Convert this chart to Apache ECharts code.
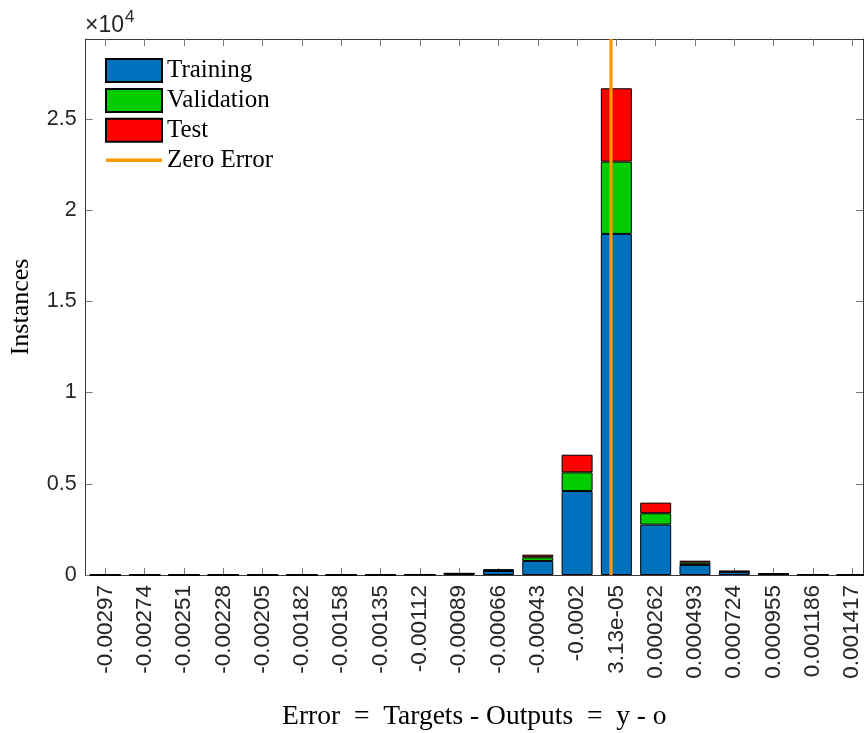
<!DOCTYPE html>
<html>
<head>
<meta charset="utf-8">
<script src="https://cdn.jsdelivr.net/npm/echarts@6/dist/echarts.min.js"></script>
<style>html,body{margin:0;padding:0;background:#fff}#c{width:864px;height:733px}</style>
</head>
<body>
<div id="c"></div>
<script>
// Bin centers (error values) and their tick labels
const binCenters = [-0.00297, -0.0027391, -0.0025082, -0.0022773, -0.0020464, -0.0018155, -0.0015846, -0.0013537, -0.0011228, -0.0008919, -0.000661, -0.0004301, -0.0001992, 0.0000313, 0.0002622, 0.0004931, 0.000724, 0.0009549, 0.0011858, 0.0014167];
const binLabels = ['-0.00297', '-0.00274', '-0.00251', '-0.00228', '-0.00205', '-0.00182', '-0.00158', '-0.00135', '-0.00112', '-0.00089', '-0.00066', '-0.00043', '-0.0002', '3.13e-05', '0.000262', '0.000493', '0.000724', '0.000955', '0.001186', '0.001417'];
const training   = [1, 1, 1, 1, 1, 2, 2, 10, 20, 70, 220, 770, 4600, 18690, 2760, 550, 170, 60, 20, 6];
const validation = [0, 0, 0, 0, 0, 1, 1, 3, 5, 12, 45, 200, 1025, 3960, 625, 125, 28, 12, 4, 2];
const test       = [0, 0, 0, 0, 0, 1, 1, 3, 5, 12, 40, 145, 965, 4020, 580, 110, 25, 12, 4, 2];
const zeroError = 0;
const yTicks = [0, 5000, 10000, 15000, 20000, 25000];

const X_MIN = -0.0030855, X_MAX = 0.00148, Y_MAX = 29370;
const labelFont = 'Liberation Sans, Arial, sans-serif';
const serifFont = 'Liberation Serif, Times New Roman, serif';
const axisColor = '#3a3a3a';

// value first so that the stacked dimension is the count (y)
function pts(arr){ return arr.map((v,i)=>[v, binCenters[i]]); }
const barBase = {type:'bar', stack:'all', barWidth:31, xAxisIndex:0, yAxisIndex:0,
  encode:{x:1, y:0}, emphasis:{disabled:true}};

const chart = echarts.init(document.getElementById('c'), null, {renderer:'canvas'});
chart.setOption({
  animation:false,
  backgroundColor:'#fff',
  grid:{left:85.7, right:1, top:39, bottom:158, containLabel:false, outerBoundsMode:'none'},
  legend:{
    orient:'vertical', left:105, top:58, padding:0,
    itemWidth:56, itemHeight:23, itemGap:4.9,
    textStyle:{fontFamily:serifFont, fontSize:25, color:'#000', padding:[0,0,0,0]},
    data:[
      {name:'Training', icon:'rect'},
      {name:'Validation', icon:'rect'},
      {name:'Test', icon:'rect'},
      {name:'Zero Error', icon:'path://M0,0 L56,0 L56,3.4 L0,3.4 Z'}
    ]
  },
  xAxis:[{
    type:'value', min:X_MIN, max:X_MAX, position:'bottom',
    axisLine:{show:true, onZero:false, lineStyle:{color:axisColor, width:1}},
    axisTick:{show:true, inside:true, length:7, customValues:binCenters, lineStyle:{color:'#777'}},
    axisLabel:{show:true, rotate:90, margin:10, customValues:binCenters,
      fontFamily:labelFont, fontSize:22.5, color:'#262626',
      formatter:function(v){ let best=0; for(let i=0;i<binCenters.length;i++){ if(Math.abs(binCenters[i]-v)<Math.abs(binCenters[best]-v)) best=i; } return binLabels[best]; }},
    splitLine:{show:false},
    name:'Error  =  Targets - Outputs  =  y - o', nameLocation:'middle', nameGap:128,
    nameTextStyle:{fontFamily:serifFont, fontSize:27.5, color:'#000'}
  },{
    type:'value', min:X_MIN, max:X_MAX, position:'top',
    axisLine:{show:true, onZero:false, lineStyle:{color:axisColor, width:1}},
    axisTick:{show:true, inside:true, length:7, customValues:binCenters, lineStyle:{color:'#777'}},
    axisLabel:{show:false}, splitLine:{show:false}
  }],
  yAxis:[{
    type:'value', min:0, max:Y_MAX, interval:5000, position:'left',
    axisLine:{show:true, onZero:false, lineStyle:{color:axisColor, width:1}},
    axisTick:{show:true, inside:true, length:7, customValues:yTicks, lineStyle:{color:'#777'}},
    axisLabel:{show:true, margin:9, customValues:yTicks, fontFamily:labelFont, fontSize:21.5, color:'#262626',
      formatter:function(v){ return String(Math.round(v/1000)/10); }},
    splitLine:{show:false},
    name:'Instances', nameLocation:'middle', nameGap:52, nameRotate:90,
    nameTextStyle:{fontFamily:serifFont, fontSize:26, color:'#000'}
  },{
    type:'value', min:0, max:Y_MAX, interval:5000, position:'right',
    axisLine:{show:true, onZero:false, lineStyle:{color:axisColor, width:1}},
    axisTick:{show:true, inside:true, length:7, customValues:yTicks, lineStyle:{color:'#777'}},
    axisLabel:{show:false}, splitLine:{show:false}
  }],
  series:[
    Object.assign({}, barBase, {name:'Training', data:pts(training), itemStyle:{color:'#0072BD', borderColor:'#000', borderWidth:1}}),
    Object.assign({}, barBase, {name:'Validation', data:pts(validation), itemStyle:{color:'#00CC00', borderColor:'#000', borderWidth:1}}),
    Object.assign({}, barBase, {name:'Test', data:pts(test), itemStyle:{color:'#FF0000', borderColor:'#000', borderWidth:1}}),
    {name:'Zero Error', type:'line', xAxisIndex:0, yAxisIndex:0, symbol:'none', z:5,
     data:[[zeroError,0],[zeroError,Y_MAX]],
     itemStyle:{color:'#FF9900'}, lineStyle:{color:'#FF9900', width:3.3}, emphasis:{disabled:true}}
  ],
  graphic:[
    {type:'text', left:85, top:14, style:{text:'×10', fontFamily:labelFont, fontSize:23, fill:'#262626'}},
    {type:'text', left:125, top:9, style:{text:'4', fontFamily:labelFont, fontSize:17, fill:'#262626'}}
  ]
});
</script>
</body>
</html>
